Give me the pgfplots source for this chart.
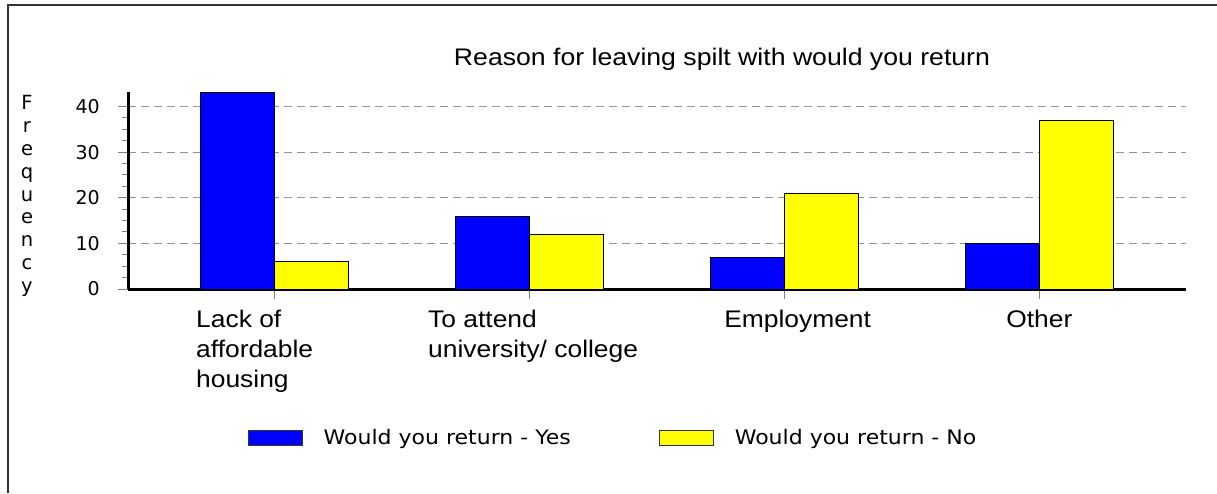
\documentclass[border=0pt]{standalone}
\usepackage{pgfplots}
\pgfplotsset{compat=1.18}
\usepackage{fontspec}
\setmainfont{Liberation Sans}
\newfontfamily\verd{DejaVu Sans}
\newcommand\sx[1]{\scalebox{1.1}[1]{#1}}
\definecolor{barblue}{RGB}{0,0,255}
\definecolor{baryellow}{RGB}{255,255,0}
\begin{document}
\begin{tikzpicture}[x=1pt,y=1pt]
\path[use as bounding box] (0,0) rectangle (1217,493);
\draw[line width=1.8pt, black!80] (8,0) -- (8,488) -- (1217,488);
\node[anchor=base, inner sep=0pt, font=\fontsize{24}{30}\selectfont] at (722,427) {\scalebox{1.11}[1]{Reason for leaving spilt with would you return}};
\node[font=\verd\fontsize{19.5}{22.9}\selectfont, align=center, anchor=north, inner sep=0pt] at (27,398) {F\\r\\e\\q\\u\\e\\n\\c\\y};
\begin{axis}[
  at={(128pt,204pt)}, anchor=south west,
  scale only axis, width=1058pt, height=197pt,
  xmin=-0.5725, xmax=3.576, ymin=0, ymax=43.2,
  clip=false,
  axis lines*=left,
  axis line style={line width=3pt, black},
  xtick={0,1,2,3},
  xticklabels={},
  ytick={0,10,20,30,40},
  minor y tick num=3,
  tick align=outside,
  major tick length=10pt, minor tick length=6pt,
  tick style={gray, line width=1pt},
  yticklabel style={font=\verd\fontsize{19}{22}\selectfont, anchor=east, inner xsep=18pt},
  /pgf/number format/assume math mode=true,
  ymajorgrids,
  major grid style={gray!85, dash pattern=on 8pt off 5pt, line width=1pt},
  ybar=0pt, bar width=74pt,
  legend style={at={(0.4584,-0.756)}, anchor=center, draw=none, fill=none,
    font=\verd\fontsize{20}{22}\selectfont,
    /tikz/every even column/.append style={column sep=86pt},
    /tikz/every odd column/.append style={column sep=19pt}},
  legend columns=2,
  legend cell align=left,
]
\addplot[fill=barblue, draw=black, line width=1pt,
  legend image code/.code={\draw[fill=barblue, draw=black!80, line width=1pt] (0pt,-7.5pt) rectangle (54pt,7.5pt);}]
  coordinates {(0,43) (1,16) (2,7) (3,10)};
\addlegendentry{\sx{Would you return - Yes}}
\addplot[fill=baryellow, draw=black, line width=1pt,
  legend image code/.code={\draw[fill=baryellow, draw=black!80, line width=1pt] (0pt,-7.5pt) rectangle (54pt,7.5pt);}]
  coordinates {(0,6) (1,12) (2,21) (3,37)};
\addlegendentry{\sx{Would you return - No}}
\begin{scope}[every node/.style={anchor=north west, inner sep=0pt, align=left, font=\fontsize{24}{30}\selectfont}]
\node[xshift=-78pt, yshift=-21pt] at (axis cs:0,0) {\sx{Lack of}\\\sx{affordable}\\\sx{housing}};
\node[xshift=-101pt, yshift=-21pt] at (axis cs:1,0) {\sx{To attend}\\\sx{university/ college}};
\node[xshift=-60pt, yshift=-21pt] at (axis cs:2,0) {\sx{Employment}};
\node[xshift=-33pt, yshift=-21pt] at (axis cs:3,0) {\sx{Other}};
\end{scope}
\end{axis}
\end{tikzpicture}
\end{document}
